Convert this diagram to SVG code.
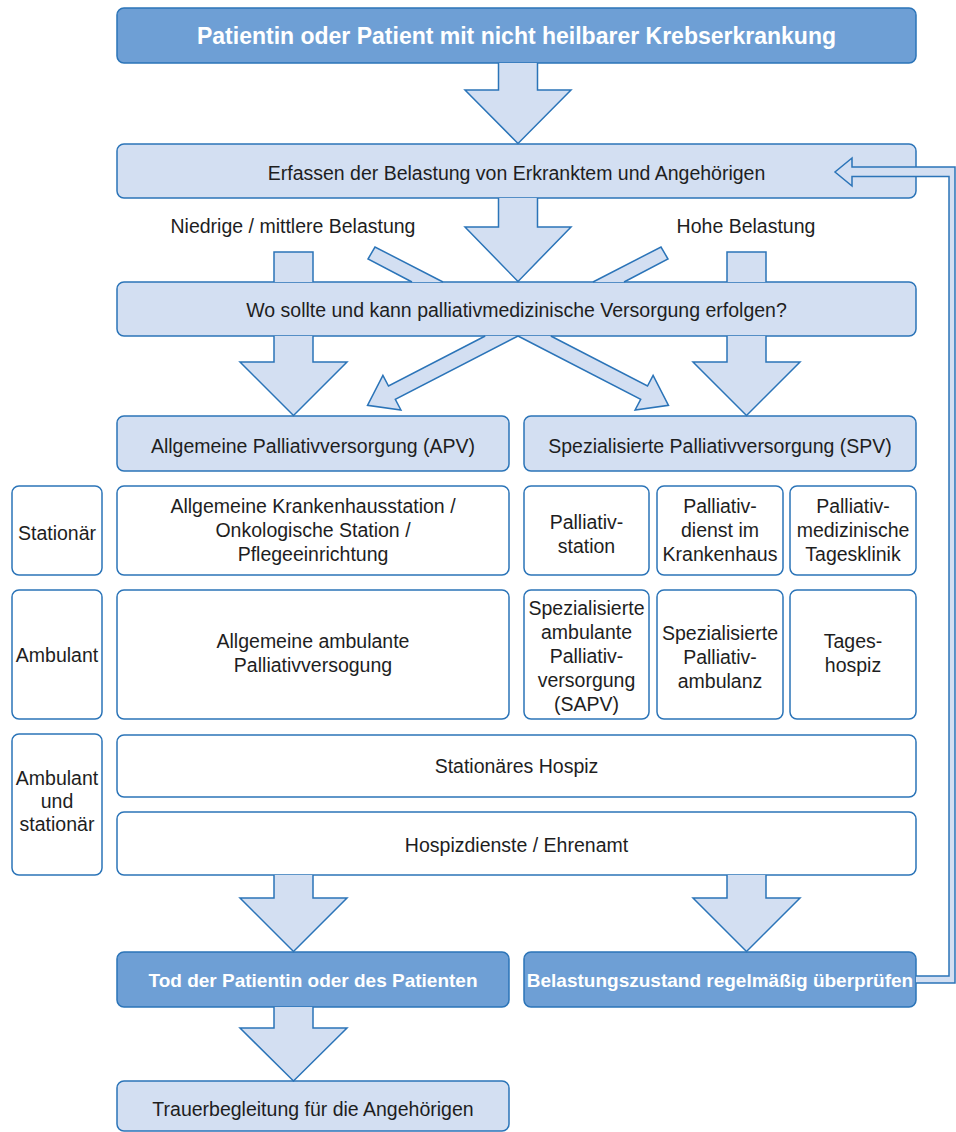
<svg xmlns="http://www.w3.org/2000/svg" width="956" height="1132" viewBox="0 0 956 1132">
<style>
.dark{fill:#6e9fd5;stroke:#2b74b8;stroke-width:1.5}
.light{fill:#d3dff2;stroke:#2b74b8;stroke-width:1.5}
.white{fill:#ffffff;stroke:#2b74b8;stroke-width:1.5}
.arr{fill:#d3dff2;stroke:#2b74b8;stroke-width:1.5;stroke-linejoin:miter}
text{font-family:"Liberation Sans",Arial,sans-serif;font-size:19.5px;fill:#1e1e1e;text-anchor:middle}
.tw{fill:#ffffff;font-weight:bold}
.big{font-size:23px}
.mid{font-size:19px}
</style>
<rect width="956" height="1132" fill="#ffffff"/>
<g id="nodes">
<g id="n-patient"><rect class="dark" x="117" y="8" width="799" height="55" rx="7"/><text class="tw big" x="516.5" y="44">Patientin oder Patient mit nicht heilbarer Krebserkrankung</text></g>
<g id="n-erfassen"><rect class="light" x="117" y="144" width="799" height="54" rx="7"/><text x="516.5" y="179.5">Erfassen der Belastung von Erkranktem und Angehörigen</text></g>
<g id="l-niedrig"><text x="293" y="233">Niedrige / mittlere Belastung</text></g>
<g id="l-hoch"><text x="746" y="233">Hohe Belastung</text></g>
<g id="n-wo"><rect class="light" x="117" y="282" width="799" height="54" rx="7"/><text x="516.5" y="317">Wo sollte und kann palliativmedizinische Versorgung erfolgen?</text></g>
<g id="n-apv"><rect class="light" x="117" y="416" width="392" height="55" rx="7"/><text x="313" y="452.5">Allgemeine Palliativversorgung (APV)</text></g>
<g id="n-spv"><rect class="light" x="524" y="416" width="392" height="55" rx="7"/><text x="720" y="452.5">Spezialisierte Palliativversorgung (SPV)</text></g>
<g id="r-stationaer"><rect class="white" x="12" y="486" width="90" height="89" rx="7"/><text x="57" y="540">Stationär</text></g>
<g id="r-ambulant"><rect class="white" x="12" y="590" width="90" height="129" rx="7"/><text x="57" y="662">Ambulant</text></g>
<g id="r-beide"><rect class="white" x="12" y="734" width="90" height="141" rx="7"/><text x="57" y="785">Ambulant</text><text x="57" y="808">und</text><text x="57" y="831">stationär</text></g>
<g id="n-apv-stat"><rect class="white" x="117" y="486" width="392" height="89" rx="7"/><text x="313" y="513">Allgemeine Krankenhausstation /</text><text x="313" y="537">Onkologische Station /</text><text x="313" y="561">Pflegeeinrichtung</text></g>
<g id="n-apv-amb"><rect class="white" x="117" y="590" width="392" height="129" rx="7"/><text x="313" y="648">Allgemeine ambulante</text><text x="313" y="672">Palliativversogung</text></g>
<g id="n-palst"><rect class="white" x="524" y="486" width="125" height="89" rx="7"/><text x="586.5" y="529">Palliativ-</text><text x="586.5" y="553">station</text></g>
<g id="n-paldienst"><rect class="white" x="657" y="486" width="126" height="89" rx="7"/><text x="720" y="513">Palliativ-</text><text x="720" y="537">dienst im</text><text x="720" y="561">Krankenhaus</text></g>
<g id="n-tagesklinik"><rect class="white" x="790" y="486" width="126" height="89" rx="7"/><text x="853" y="513">Palliativ-</text><text x="853" y="537">medizinische</text><text x="853" y="561">Tagesklinik</text></g>
<g id="n-sapv"><rect class="white" x="524" y="590" width="125" height="129" rx="7"/><text x="586.5" y="615">Spezialisierte</text><text x="586.5" y="639">ambulante</text><text x="586.5" y="663">Palliativ-</text><text x="586.5" y="687">versorgung</text><text x="586.5" y="711">(SAPV)</text></g>
<g id="n-palamb"><rect class="white" x="657" y="590" width="126" height="129" rx="7"/><text x="720" y="640">Spezialisierte</text><text x="720" y="664">Palliativ-</text><text x="720" y="688">ambulanz</text></g>
<g id="n-tageshospiz"><rect class="white" x="790" y="590" width="126" height="129" rx="7"/><text x="853" y="648">Tages-</text><text x="853" y="672">hospiz</text></g>
<g id="n-stathospiz"><rect class="white" x="117" y="735" width="799" height="62" rx="7"/><text x="516.5" y="773">Stationäres Hospiz</text></g>
<g id="n-hospizdienste"><rect class="white" x="117" y="812" width="799" height="63" rx="7"/><text x="516.5" y="852">Hospizdienste / Ehrenamt</text></g>
<g id="n-tod"><rect class="dark" x="117" y="952" width="392" height="55" rx="7"/><text class="tw mid" x="313" y="987">Tod der Patientin oder des Patienten</text></g>
<g id="n-pruefen"><rect class="dark" x="524" y="952" width="392" height="55" rx="7"/><text class="tw mid" x="720" y="987">Belastungszustand regelmäßig überprüfen</text></g>
<g id="n-trauer"><rect class="light" x="117" y="1081" width="392" height="50" rx="7"/><text x="313" y="1116">Trauerbegleitung für die Angehörigen</text></g>
</g>
<g id="connectors">
<path class="arr" d="M498.5,63 V90 H465 L518,143.5 L571,90 H537.5 V63"/>
<path class="arr" d="M498.5,198 V227 H465 L518,281.5 L571,227 H537.5 V198"/>
<path class="arr" d="M274,282 V252 H313 V282"/>
<path class="arr" d="M274,336 V362 H240 L293.5,415.5 L347,362 H313 V336"/>
<path class="arr" d="M727,282 V252 H766 V282"/>
<path class="arr" d="M727,336 V362 H693 L746.5,415.5 L800,362 H766 V336"/>
<path class="arr" d="M412,282 L368,259 L375,247 L443,282"/>
<path class="arr" d="M624,282 L668,259 L661,247 L593,282"/>
<path class="arr" d="M485.2,336 L388.5,386 L382.9,375.4 L367.5,405.3 L400.9,410 L395.3,399.4 L518,336"/>
<path class="arr" d="M550.8,336 L647.5,386 L653.1,375.4 L668.5,405.3 L635.1,410 L640.7,399.4 L518,336"/>
<path class="arr" d="M274,875 V898 H240 L293.5,951.5 L347,898 H313 V875"/>
<path class="arr" d="M727,875 V898 H693 L746.5,951.5 L800,898 H766 V875"/>
<path class="arr" d="M274,1007 V1028 H240 L293.5,1081 L347,1028 H313 V1007"/>
<path class="arr" d="M916,983 H955 V167 H852 V158 L835,172 L852,186 V176.5 H949 V976 H916"/>
</g>
</svg>
